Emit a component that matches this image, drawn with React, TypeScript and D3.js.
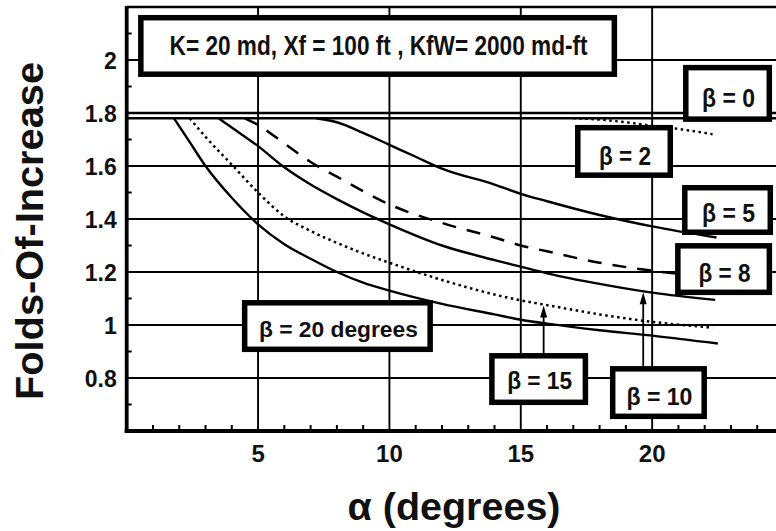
import React from 'react';
import * as d3 from 'd3';

// ---------- data ----------
const beta0Alpha = [0, 25];
const beta0Fold = [1.78, 1.78];

const beta2Alpha = [17, 18, 19, 20, 21, 22.3];
const beta2Fold = [1.78, 1.775, 1.765, 1.752, 1.74, 1.72];

const beta5Alpha = [7.2, 8, 9, 10, 11, 12, 14, 15, 16, 18, 20, 22.45];
const beta5Fold = [1.78, 1.765, 1.725, 1.68, 1.635, 1.59, 1.53, 1.495, 1.467, 1.415, 1.372, 1.33];

const beta8Alpha = [4.5, 5, 6, 7, 8, 9, 10, 12, 14, 15, 16, 18, 20, 22.4];
const beta8Fold = [1.78, 1.755, 1.685, 1.615, 1.56, 1.505, 1.455, 1.385, 1.33, 1.3, 1.278, 1.235, 1.205, 1.18];

const beta10Alpha = [3.5, 4, 5, 6, 7, 8, 9, 10, 12, 14, 15, 16, 18, 20, 22.4];
const beta10Fold = [1.78, 1.745, 1.675, 1.595, 1.53, 1.475, 1.425, 1.38, 1.3, 1.245, 1.22, 1.195, 1.155, 1.122, 1.095];

const beta15Alpha = [2.4, 3, 4, 5, 6, 7, 8, 9, 10, 12, 14, 15, 16, 18, 20, 22.3];
const beta15Fold = [1.78, 1.71, 1.605, 1.5, 1.41, 1.355, 1.31, 1.27, 1.235, 1.17, 1.115, 1.093, 1.075, 1.04, 1.012, 0.99];

const beta20Alpha = [1.8, 2.4, 3, 4, 5, 6, 7, 8, 9, 10, 12, 14, 15, 16, 18, 20, 22.5];
const beta20Fold = [1.78, 1.69, 1.6, 1.48, 1.38, 1.305, 1.25, 1.2, 1.16, 1.13, 1.08, 1.04, 1.02, 1.005, 0.98, 0.96, 0.93];

const xTickValues = [5, 10, 15, 20];
const xTickLabels = ['5', '10', '15', '20'];
const yTickValues = [0.8, 1, 1.2, 1.4, 1.6, 1.8, 2];
const yTickLabels = ['0.8', '1', '1.2', '1.4', '1.6', '1.8', '2'];

const xTitle = 'α (degrees)';
const yTitle = 'Folds-Of-Increase';

// annotation boxes: text and anchor (box centre) in data coordinates
const boxTexts = [
  'K= 20 md, Xf = 100 ft , KfW= 2000 md-ft',
  'β = 0',
  'β = 2',
  'β = 5',
  'β = 8',
  'β = 20 degrees',
  'β = 15',
  'β = 10',
];
const boxAlpha = [9.55, 22.87, 18.93, 22.87, 22.72, 8.02, 15.68, 20.24];
const boxFold = [2.053, 1.874, 1.655, 1.434, 1.211, 0.996, 0.796, 0.745];

// arrows: from box (index) up to curve at alpha
const arrowAlpha = [15.87, 19.66];
const arrowBox = [6, 7];

// ---------- layout / style ----------
const W = 776;
const H = 531;
const boxLayout = [
  { w: 479, h: 62, fs: 28, tw: 418, dy: 9.5 },
  { w: 89, h: 57, fs: 25, tw: 53, dy: 13.5 },
  { w: 98, h: 53, fs: 25, tw: 52, dy: 13.5 },
  { w: 91, h: 50, fs: 25, tw: 53, dy: 12.5 },
  { w: 97, h: 52, fs: 25, tw: 52, dy: 12.5 },
  { w: 191, h: 52, fs: 22, tw: 159, dy: 11 },
  { w: 99, h: 52, fs: 23, tw: 65, dy: 10 },
  { w: 97, h: 53, fs: 24, tw: 66, dy: 12.5 },
];
const narrow = "'Liberation Sans Narrow', 'Liberation Sans', Arial, sans-serif";
const sans = "'Liberation Sans', Arial, Helvetica, sans-serif";

function interp(xs: number[], ys: number[], a: number) {
  for (let i = 0; i < xs.length - 1; i++) {
    if (a >= xs[i] && a <= xs[i + 1]) {
      const t = (a - xs[i]) / (xs[i + 1] - xs[i]);
      return ys[i] + t * (ys[i + 1] - ys[i]);
    }
  }
  return ys[ys.length - 1];
}

export default function App() {
  const x = d3.scaleLinear().domain([0, 25]).range([126.7, 783.5]);
  const y = d3.scaleLinear().domain([0.6, 2.2]).range([431, 7]);

  const line = d3
    .line<[number, number]>()
    .x((d) => x(d[0]))
    .y((d) => y(d[1]))
    .curve(d3.curveMonotoneX);

  const series = [
    { a: beta0Alpha, f: beta0Fold, dash: undefined as string | undefined, sw: 2.6 },
    { a: beta2Alpha, f: beta2Fold, dash: '2.5,3.5', sw: 2.4 },
    { a: beta5Alpha, f: beta5Fold, dash: undefined, sw: 2.4 },
    { a: beta8Alpha, f: beta8Fold, dash: '14,11', sw: 2.5 },
    { a: beta10Alpha, f: beta10Fold, dash: undefined, sw: 2.4 },
    { a: beta15Alpha, f: beta15Fold, dash: '2.5,3.5', sw: 2.5 },
    { a: beta20Alpha, f: beta20Fold, dash: undefined, sw: 2.4 },
  ];

  const x0 = x(0);
  const x1 = x(25);
  const yb = y(0.6);
  const yt = y(2.2);

  const minorY = d3.range(7, 22, 2).map((v) => v / 10);
  const minorX = d3.range(1, 25).filter((v) => v % 5 !== 0);

  const curveSets = [beta15Alpha, beta10Alpha];
  const curveFolds = [beta15Fold, beta10Fold];

  return (
    <svg width={W} height={H} style={{ position: 'absolute', left: 0, top: 0, background: '#fff' }}>
      <rect x={0} y={0} width={W} height={H} fill="#fff" />
      {/* grid */}
      {yTickValues.map((v) => (
        <line key={'gy' + v} x1={x0} x2={x1} y1={y(v)} y2={y(v)} stroke="#000" strokeWidth={v === 1.8 ? 2.6 : 1.9} />
      ))}
      {xTickValues.map((v) => (
        <line key={'gx' + v} x1={x(v)} x2={x(v)} y1={yt} y2={yb} stroke="#000" strokeWidth={1.9} />
      ))}
      {/* curves */}
      {series.map((s, i) => (
        <path
          key={'s' + i}
          d={line(s.a.map((a, j) => [a, s.f[j]] as [number, number])) || ''}
          fill="none"
          stroke="#000"
          strokeWidth={s.sw}
          strokeDasharray={s.dash}
        />
      ))}
      {/* minor ticks */}
      {minorY.map((v) => (
        <line key={'my' + v} x1={x0} x2={x0 + 5} y1={y(v)} y2={y(v)} stroke="#000" strokeWidth={2} />
      ))}
      {minorX.map((v) => (
        <line key={'mx' + v} x1={x(v)} x2={x(v)} y1={yb} y2={yb - 6} stroke="#000" strokeWidth={2} />
      ))}
      {/* frame */}
      <line x1={x0} x2={x1} y1={yt} y2={yt} stroke="#000" strokeWidth={2.5} />
      <line x1={x0} x2={x0} y1={yt - 1} y2={yb + 2} stroke="#000" strokeWidth={3.8} />
      <line x1={x0 - 2} x2={x1} y1={yb} y2={yb} stroke="#000" strokeWidth={4} />
      {/* tick labels */}
      {yTickValues.map((v, i) => (
        <text
          key={'yl' + v}
          x={x0 - 10}
          y={y(v) + 8.5}
          textAnchor="end"
          fontFamily={sans}
          fontWeight="bold"
          fontSize={23}
          fill="#111"
        >
          {yTickLabels[i]}
        </text>
      ))}
      {xTickValues.map((v, i) => (
        <text
          key={'xl' + v}
          x={x(v)}
          y={yb + 31}
          textAnchor="middle"
          fontFamily={sans}
          fontWeight="bold"
          fontSize={24}
          fill="#111"
        >
          {xTickLabels[i]}
        </text>
      ))}
      {/* axis titles */}
      <text
        x={454}
        y={520}
        textAnchor="middle"
        fontFamily={sans}
        fontWeight="bold"
        fontSize={38}
        fill="#111"
        textLength={213}
        lengthAdjust="spacingAndGlyphs"
      >
        {xTitle}
      </text>
      <text
        transform={`translate(43,231) rotate(-90)`}
        textAnchor="middle"
        fontFamily={sans}
        fontWeight="bold"
        fontSize={38}
        fill="#111"
        textLength={338}
        lengthAdjust="spacingAndGlyphs"
      >
        {yTitle}
      </text>
      {/* arrows */}
      {arrowAlpha.map((a, i) => {
        const bi = arrowBox[i];
        const ax = x(a);
        const tipY = y(interp(curveSets[i], curveFolds[i], a)) + 1;
        const baseY = y(boxFold[bi]) - boxLayout[bi].h / 2 + 2;
        return (
          <g key={'ar' + i}>
            <line x1={ax} x2={ax} y1={baseY} y2={tipY + 8} stroke="#000" strokeWidth={1.8} />
            <path d={`M${ax},${tipY} L${ax - 3.5},${tipY + 12} L${ax + 3.5},${tipY + 12} Z`} fill="#000" />
          </g>
        );
      })}
      {/* boxes */}
      {boxTexts.map((t, i) => {
        const L = boxLayout[i];
        const cx = x(boxAlpha[i]);
        const cy = y(boxFold[i]);
        return (
          <g key={'b' + i}>
            <rect
              x={cx - L.w / 2 + 2.75}
              y={cy - L.h / 2 + 2.75}
              width={L.w - 5.5}
              height={L.h - 5.5}
              fill="#fff"
              stroke="#000"
              strokeWidth={5.5}
            />
            <text
              x={cx + 1}
              y={cy + L.dy}
              textAnchor="middle"
              fontFamily={narrow}
              fontWeight="bold"
              fontSize={L.fs}
              fill="#111"
              textLength={L.tw}
              lengthAdjust="spacingAndGlyphs"
            >
              {t}
            </text>
          </g>
        );
      })}
    </svg>
  );
}
